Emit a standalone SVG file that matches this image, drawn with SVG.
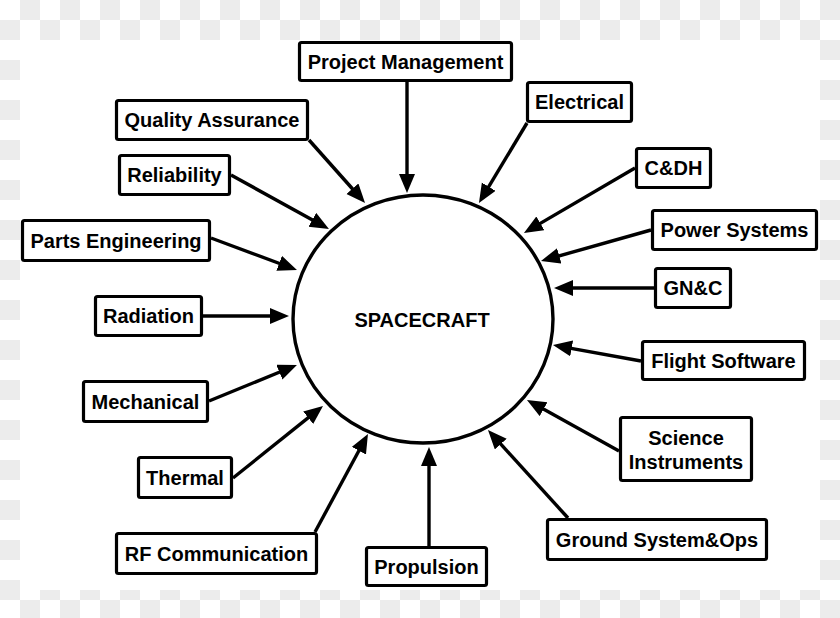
<svg xmlns="http://www.w3.org/2000/svg" width="840" height="618" viewBox="0 0 840 618">
<style>
.box{fill:#fff;stroke:#000;stroke-width:3.2}
.lbl{font-family:"Liberation Sans",Arial,sans-serif;font-weight:bold;font-size:20px;fill:#000;text-anchor:middle}
.conn line{stroke:#000;stroke-width:3.4;marker-end:url(#ah)}
</style>
<defs>
<pattern id="chk" x="0" y="0" width="40" height="40" patternUnits="userSpaceOnUse">
<rect width="40" height="40" fill="#fff"/>
<rect x="20" y="0" width="20" height="20" fill="#ececec"/>
<rect x="0" y="20" width="20" height="20" fill="#ececec"/>
</pattern>
<marker id="ah" markerUnits="userSpaceOnUse" markerWidth="20" markerHeight="18" refX="9" refY="8" orient="auto">
<path d="M0,0 L19,8 L0,16 Z" fill="#000"/>
</marker>
</defs>
<rect width="840" height="618" fill="url(#chk)"/>
<rect x="20" y="40" width="800" height="550" fill="#fff"/>

<g id="spacecraft">
<ellipse cx="423" cy="319" rx="130" ry="124" fill="#fff" stroke="#000" stroke-width="3.4"/>
<text class="lbl" x="422" y="327">SPACECRAFT</text>
</g>

<g id="connectors" class="conn">
<line x1="407" y1="82" x2="407" y2="183"/>
<line x1="309" y1="140" x2="358.4" y2="195.5"/>
<line x1="231" y1="175" x2="320.2" y2="224.2"/>
<line x1="211" y1="238" x2="287.6" y2="266.5"/>
<line x1="203" y1="316" x2="279" y2="316"/>
<line x1="209" y1="401" x2="287.7" y2="368.8"/>
<line x1="233" y1="478" x2="315.2" y2="412.2"/>
<line x1="315" y1="532" x2="363.2" y2="442.8"/>
<line x1="429" y1="546" x2="429" y2="457"/>
<line x1="568" y1="518" x2="494.7" y2="437.4"/>
<line x1="619" y1="451" x2="535.7" y2="404.8"/>
<line x1="641" y1="361" x2="562.8" y2="346.8"/>
<line x1="654" y1="288" x2="564" y2="288"/>
<line x1="651" y1="230" x2="550.6" y2="258.3"/>
<line x1="635" y1="168" x2="532.6" y2="227.9"/>
<line x1="527" y1="123" x2="484.1" y2="194.4"/>
</g>

<g id="project-management"><rect class="box" x="299.5" y="42.5" width="212" height="38" rx="2"/><text class="lbl" x="405.5" y="68.5">Project Management</text></g>
<g id="electrical"><rect class="box" x="527.5" y="82.5" width="104" height="39" rx="2"/><text class="lbl" x="579.5" y="109">Electrical</text></g>
<g id="quality-assurance"><rect class="box" x="116.5" y="100.5" width="191" height="39" rx="2"/><text class="lbl" x="212" y="127">Quality Assurance</text></g>
<g id="reliability"><rect class="box" x="119.5" y="155.5" width="110" height="39" rx="2"/><text class="lbl" x="174.5" y="182">Reliability</text></g>
<g id="cdh"><rect class="box" x="636.5" y="148.5" width="74" height="39" rx="2"/><text class="lbl" x="673.5" y="175">C&amp;DH</text></g>
<g id="parts-engineering"><rect class="box" x="22.5" y="220.5" width="187" height="40" rx="2"/><text class="lbl" x="116" y="247.5">Parts Engineering</text></g>
<g id="power-systems"><rect class="box" x="652.5" y="210.5" width="164" height="39" rx="2"/><text class="lbl" x="734.5" y="237">Power Systems</text></g>
<g id="gnc"><rect class="box" x="655.5" y="268.5" width="75" height="39" rx="2"/><text class="lbl" x="693" y="295">GN&amp;C</text></g>
<g id="radiation"><rect class="box" x="95.5" y="296.5" width="106" height="39" rx="2"/><text class="lbl" x="148.5" y="323">Radiation</text></g>
<g id="flight-software"><rect class="box" x="642.5" y="341.5" width="162" height="38" rx="2"/><text class="lbl" x="723.5" y="367.5">Flight Software</text></g>
<g id="mechanical"><rect class="box" x="83.5" y="381.5" width="124" height="40" rx="2"/><text class="lbl" x="145.5" y="408.5">Mechanical</text></g>
<g id="science-instruments"><rect class="box" x="620.5" y="417.5" width="131" height="63" rx="2"/><text class="lbl" x="686" y="445">Science</text><text class="lbl" x="686" y="469">Instruments</text></g>
<g id="thermal"><rect class="box" x="138.5" y="457.5" width="93" height="40" rx="2"/><text class="lbl" x="185" y="484.5">Thermal</text></g>
<g id="ground-system-ops"><rect class="box" x="547.5" y="519.5" width="219" height="40" rx="2"/><text class="lbl" x="657" y="546.5">Ground System&amp;Ops</text></g>
<g id="rf-communication"><rect class="box" x="116.5" y="533.5" width="200" height="40" rx="2"/><text class="lbl" x="216.5" y="560.5">RF Communication</text></g>
<g id="propulsion"><rect class="box" x="366.5" y="547.5" width="120" height="38" rx="2"/><text class="lbl" x="426.5" y="573.5">Propulsion</text></g>
</svg>
